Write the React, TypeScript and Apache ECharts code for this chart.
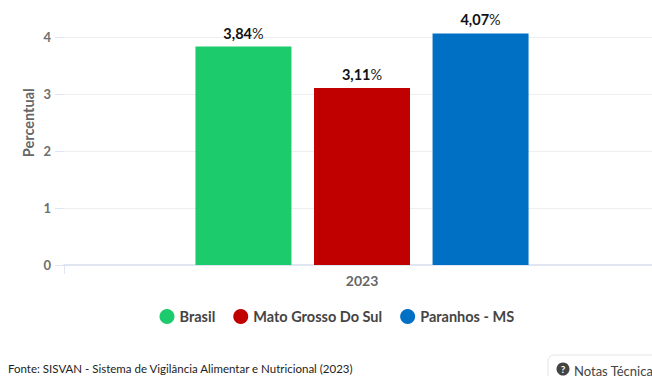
import React, { useEffect, useRef } from "react";
import * as echarts from "echarts";

const years = ["2023"];
const seriesNames = ["Brasil", "Mato Grosso Do Sul", "Paranhos - MS"];
const brasil = [3.84];
const matoGrosso = [3.11];
const paranhos = [4.07];
const colors = ["#1ccb6b", "#c00000", "#0070c4"];
const font = "Lato";
const sourceNote = "Fonte: SISVAN - Sistema de Vigilância Alimentar e Nutricional (2023)";
const notesLabel = "Notas Técnicas";

// The canvas runs past the top and right of the visible frame, so the
// 0–5 scale keeps its top tick out of view.
const hiddenTop = 40;

const percentLabel = (p: any) =>
  `{v|${p.value.toFixed(2).replace(".", ",")}}{p|%}`;

const barSeries = (name: string, data: number[], color: string) => ({
  name,
  type: "bar",
  data,
  barWidth: 96,
  barGap: "23.5%",
  itemStyle: { color },
  label: {
    show: true,
    position: "top",
    distance: 6,
    formatter: percentLabel,
    rich: {
      v: { fontFamily: font, fontSize: 14.5, fontWeight: "bold", color: "#111111" },
      p: { fontFamily: font, fontSize: 14.5, color: "#222222" },
    },
  },
});

export default function App() {
  const ref = useRef<HTMLDivElement>(null);
  useEffect(() => {
    const chart = echarts.init(ref.current!, undefined, { renderer: "svg" });
    chart.setOption({
      animation: false,
      backgroundColor: "#ffffff",
      textStyle: { fontFamily: font },
      grid: { left: 64, right: 24, top: hiddenTop - 19.5, bottom: 111, containLabel: false },
      legend: {
        top: hiddenTop + 304,
        left: 154.5,
        icon: "circle",
        itemWidth: 15,
        itemHeight: 15,
        itemGap: 18,
        textStyle: { fontFamily: font, fontSize: 14.5, fontWeight: "bold", color: "#444444" },
      },
      xAxis: {
        type: "category",
        data: years,
        axisLine: { lineStyle: { color: "#e0e5f2", width: 2 } },
        axisTick: { show: true, length: 9, lineStyle: { color: "#dfe5f5", width: 1 } },
        axisLabel: { fontFamily: font, fontSize: 14, fontWeight: "bold", color: "#666666", margin: 8 },
      },
      yAxis: {
        type: "value",
        min: 0,
        max: 5,
        interval: 1,
        name: "Percentual",
        nameLocation: "middle",
        nameGap: 28,
        nameMoveOverlap: false,
        nameTextStyle: { fontFamily: font, fontSize: 14.5, fontWeight: "bold", color: "#666666" },
        axisLine: { show: false },
        axisTick: { show: true, length: 9, lineStyle: { color: "#dfe5f5", width: 1 } },
        axisLabel: {
          fontFamily: font,
          fontSize: 13,
          fontWeight: "bold",
          color: "#6e6e6e",
          margin: 13,
          showMaxLabel: false,
        },
        splitLine: { lineStyle: { color: "#eeeef2", width: 1 } },
      },
      series: [
        barSeries(seriesNames[0], brasil, colors[0]),
        barSeries(seriesNames[1], matoGrosso, colors[1]),
        barSeries(seriesNames[2], paranhos, colors[2]),
      ],
      graphic: [
        {
          type: "text",
          x: 8,
          y: hiddenTop + 362,
          style: { text: sourceNote, fontFamily: font, fontSize: 11.5, fill: "#222222" },
        },
        {
          type: "rect",
          shape: { x: 548, y: hiddenTop + 355, width: 130, height: 40, r: 6 },
          style: { fill: "#ffffff", stroke: "#e4e4e8", lineWidth: 1 },
        },
        { type: "circle", shape: { cx: 563, cy: hiddenTop + 369, r: 6.5 }, style: { fill: "#444444" } },
        {
          type: "text",
          x: 563,
          y: hiddenTop + 369,
          style: { text: "?", fontFamily: font, fontSize: 10, fontWeight: "bold", fill: "#ffffff", align: "center", verticalAlign: "middle" },
        },
        {
          type: "text",
          x: 574,
          y: hiddenTop + 364,
          style: { text: notesLabel, fontFamily: font, fontSize: 13, fill: "#444444" },
        },
      ],
    });
    return () => chart.dispose();
  }, []);
  return (
    <div style={{ position: "fixed", left: 0, top: 0, width: 652, height: 376, overflow: "hidden" }}>
      <div ref={ref} style={{ position: "absolute", left: 0, top: -hiddenTop, width: 684, height: 376 + hiddenTop }} />
    </div>
  );
}
